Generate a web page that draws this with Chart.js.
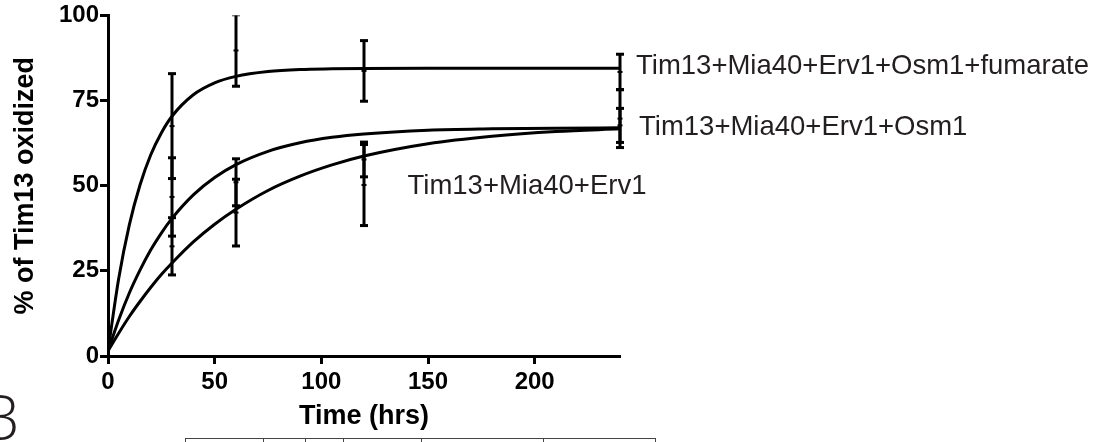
<!DOCTYPE html>
<html>
<head>
<meta charset="utf-8">
<script src="https://cdn.jsdelivr.net/npm/chart.js@4.4.0/dist/chart.umd.min.js"></script>
<style>
  html, body { margin: 0; padding: 0; background: #fff; }
  #wrap { position: relative; width: 1108px; height: 442px; overflow: hidden; }
  canvas { display: block; }
</style>
</head>
<body>
<div id="wrap"><canvas id="c" width="1108" height="442"></canvas></div>
<script>
// Fitted oxidation curves (hours -> % of Tim13 oxidized)
const timeFit = [0, 5, 10, 15, 20, 25, 30, 40, 50, 60, 75, 90, 105, 120, 150, 180, 210, 240];
const fitFumarate = [1.5, 22.7, 38.5, 50.2, 59.0, 65.5, 70.4, 76.7, 80.2, 82.1, 83.5, 84.1, 84.3, 84.4, 84.5, 84.5, 84.5, 84.5];
const fitOsm1     = [1.5, 10.6, 18.5, 25.2, 31.1, 36.1, 40.4, 47.3, 52.4, 56.2, 60.1, 62.6, 64.2, 65.2, 66.3, 66.7, 66.9, 67.0];
const fitErv1     = [1.5, 6.7, 11.6, 16.0, 20.1, 23.9, 27.3, 33.5, 38.7, 43.1, 48.6, 52.8, 56.1, 58.7, 62.3, 64.5, 65.9, 66.7];

// Measured time points: mean and standard deviation
const timeMeasured = [30, 60, 120, 240];
const meanFumarate = [67.5, 89.7, 83.7, 83.4];
const sdFumarate   = [15.4, 10.5, 8.9, 5.2];
const meanOsm1     = [46.7, 51.0, 57.7, 69.7];
const sdOsm1       = [11.5, 6.9, 5.1, 8.5];
const meanErv1     = [32.2, 42.1, 50.2, 67.7];
const sdErv1       = [8.4, 9.8, 11.9, 5.0];

const seriesNames = ['Tim13+Mia40+Erv1+Osm1+fumarate', 'Tim13+Mia40+Erv1+Osm1', 'Tim13+Mia40+Erv1'];
const xTicks = [0, 50, 100, 150, 200];
const yTicks = [0, 25, 50, 75, 100];

const FAMILY = "'Liberation Sans', Arial, Helvetica, sans-serif";

const fits = [fitFumarate, fitOsm1, fitErv1];
const measured = [
  { mean: meanFumarate, sd: sdFumarate },
  { mean: meanOsm1, sd: sdOsm1 },
  { mean: meanErv1, sd: sdErv1 }
];

// Where each curve's name is written (data units + pixel nudge)
const labelPlacement = [
  { t: 240, v: 85.0, dx: 16 },
  { t: 240, v: 67.0, dx: 19 },
  { t: 140.4, v: 49.9, dx: 0 }
];

const errorBars = {
  id: 'errorBars',
  afterDatasetsDraw(chart) {
    const { ctx, chartArea: a, scales: { x, y } } = chart;
    ctx.save();
    ctx.beginPath();
    ctx.rect(a.left - 20, a.top, a.right - a.left + 40, a.bottom - a.top);
    ctx.clip();
    ctx.fillStyle = '#000';
    measured.forEach(s => {
      s.mean.forEach((m, i) => {
        const px = x.getPixelForValue(timeMeasured[i]);
        const hi = y.getPixelForValue(m + s.sd[i]);
        const lo = y.getPixelForValue(m - s.sd[i]);
        const pm = y.getPixelForValue(m);
        ctx.fillRect(px - 1.5, hi, 3, lo - hi);
        ctx.fillRect(px - 4, hi - 1.5, 8, 3);
        ctx.fillRect(px - 4, lo - 1.5, 8, 3);
        ctx.fillRect(px - 2.5, pm - 1, 5, 2);
      });
    });
    ctx.restore();
  }
};

const seriesLabels = {
  id: 'seriesLabels',
  afterDraw(chart) {
    const { ctx, scales: { x, y } } = chart;
    ctx.save();
    ctx.fillStyle = '#231f20';
    ctx.font = "27.5px " + FAMILY;
    ctx.textAlign = 'left';
    ctx.textBaseline = 'middle';
    seriesNames.forEach((name, i) => {
      const p = labelPlacement[i];
      ctx.fillText(name, x.getPixelForValue(p.t) + p.dx, y.getPixelForValue(p.v));
    });
    ctx.restore();
  }
};

// Panel letter and the top rule of the table below the graph
const panelDecor = {
  id: 'panelDecor',
  afterDraw(chart) {
    const ctx = chart.ctx;
    ctx.save();
    ctx.fillStyle = '#231f20';
    ctx.font = "300 62px 'Open Sans', Lato, " + FAMILY;
    ctx.textAlign = 'right';
    ctx.textBaseline = 'alphabetic';
    ctx.fillText('B', 19, 440);
    ctx.strokeStyle = '#444';
    ctx.lineWidth = 1;
    ctx.beginPath();
    ctx.moveTo(185, 438.5);
    ctx.lineTo(656, 438.5);
    [185.5, 263.5, 305.5, 343.5, 421.5, 543.5, 655.5].forEach(cx => {
      ctx.moveTo(cx, 438);
      ctx.lineTo(cx, 442);
    });
    ctx.stroke();
    ctx.restore();
  }
};

const lineDataset = (i) => ({
  label: seriesNames[i],
  data: timeFit.map((t, k) => ({ x: t, y: fits[i][k] })),
  borderColor: '#000',
  borderWidth: 3,
  pointRadius: 0,
  fill: false,
  cubicInterpolationMode: 'monotone',
  showLine: true
});

new Chart(document.getElementById('c'), {
  type: 'scatter',
  data: { datasets: [lineDataset(0), lineDataset(1), lineDataset(2)] },
  options: {
    responsive: false,
    devicePixelRatio: 1,
    animation: false,
    layout: { padding: { left: 0, top: 15, right: 488, bottom: 0 } },
    plugins: { legend: { display: false }, tooltip: { enabled: false } },
    scales: {
      x: {
        type: 'linear', min: 0, max: 240,
        afterBuildTicks: s => { s.ticks = xTicks.map(v => ({ value: v })); },
        afterFit: s => { s.height = 86; },
        grid: { drawOnChartArea: false, drawTicks: true, tickLength: 8, tickWidth: 3, tickColor: '#000' },
        border: { display: true, color: '#000', width: 3 },
        ticks: { color: '#000', font: { family: FAMILY, size: 24, weight: 'bold' }, padding: 4, maxRotation: 0, autoSkip: false },
        title: { display: true, text: 'Time (hrs)', color: '#000', font: { family: FAMILY, size: 27, weight: 'bold' }, padding: { top: 0, bottom: 9 } }
      },
      y: {
        type: 'linear', min: 0, max: 100,
        afterBuildTicks: s => { s.ticks = yTicks.map(v => ({ value: v })); },
        afterFit: s => { s.width = 108; },
        grid: { drawOnChartArea: false, drawTicks: true, tickLength: 8, tickWidth: 3, tickColor: '#000' },
        border: { display: true, color: '#000', width: 3 },
        ticks: { color: '#000', font: { family: FAMILY, size: 24, weight: 'bold' }, padding: 1, autoSkip: false },
        title: { display: true, text: '% of Tim13 oxidized', color: '#000', font: { family: FAMILY, size: 27, weight: 'bold' }, padding: { top: 9, bottom: 0 } }
      }
    }
  },
  plugins: [errorBars, seriesLabels, panelDecor]
});
</script>
</body>
</html>
